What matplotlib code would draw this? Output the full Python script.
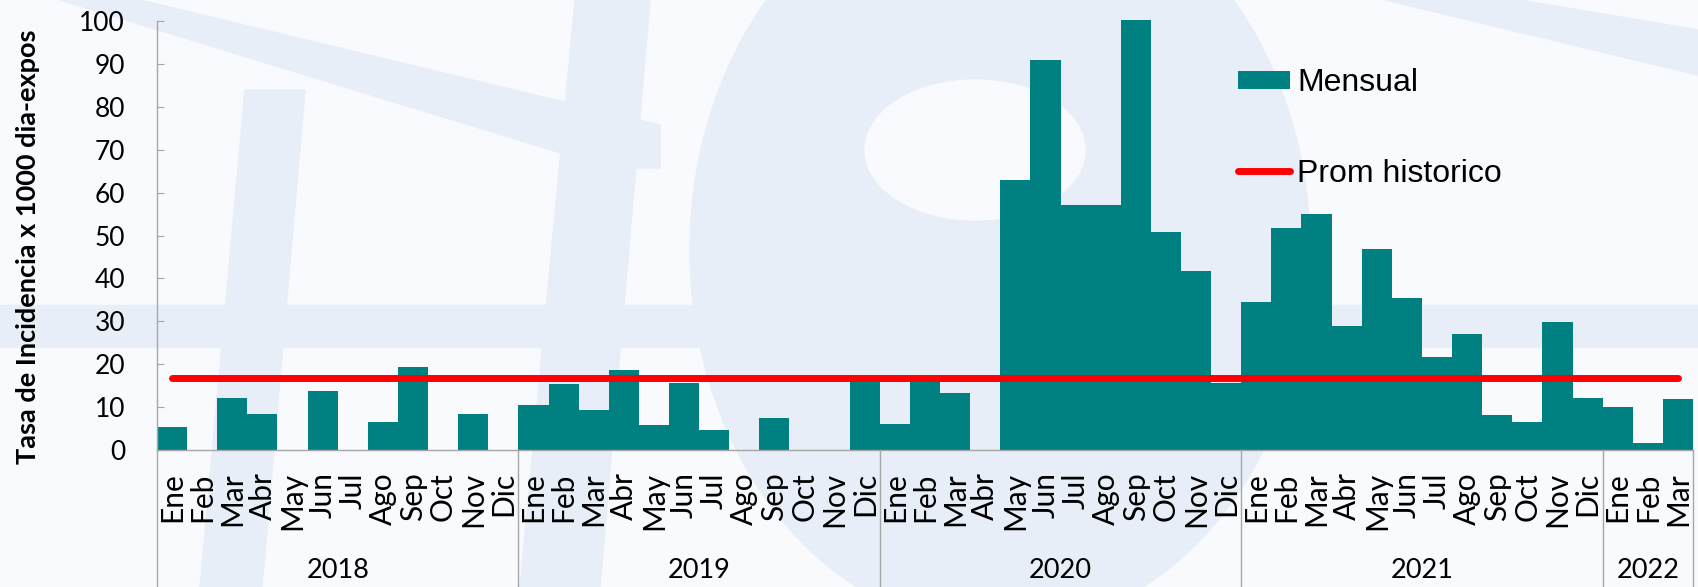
import numpy as np
import matplotlib.pyplot as plt
from matplotlib.patches import Polygon, Ellipse, Rectangle

# datos
meses = ["Ene", "Feb", "Mar", "Abr", "May", "Jun", "Jul", "Ago", "Sep", "Oct", "Nov", "Dic"]
anios = ["2018", "2019", "2020", "2021", "2022"]
meses_por_anio = [12, 12, 12, 12, 3]
tasa = [5.4, 0, 12.1, 8.3, 0, 13.7, 0, 6.5, 19.4, 0, 8.5, 0,
        10.5, 15.3, 9.4, 18.7, 5.8, 15.7, 4.6, 0, 7.4, 0, 0, 16.2,
        6.0, 16.2, 13.3, 0, 62.9, 90.8, 57.1, 57.1, 100.2, 50.7, 41.8, 15.6,
        34.6, 51.8, 54.9, 28.9, 46.8, 35.5, 21.6, 27.0, 8.2, 6.5, 29.9, 12.1,
        10.0, 1.7, 11.9]
prom_historico = 16.7

etiquetas = []
for n in meses_por_anio:
    etiquetas += meses[:n]
x = np.arange(len(tasa))

W, H = 1698, 587
fig = plt.figure(figsize=(W / 100, H / 100), dpi=100)

# marca de agua de fondo (logo tenue)
bg = fig.add_axes([0, 0, 1, 1], zorder=0)
bg.set_xlim(0, W)
bg.set_ylim(H, 0)
bg.axis("off")
fondo = "#f8fafd"
marca = "#e8eef7"
bg.add_patch(Rectangle((0, 0), W, H, color=fondo))
bg.add_patch(Ellipse((1000, 250), 620, 760, color=marca))
bg.add_patch(Ellipse((975, 150), 220, 140, color=fondo))
bg.add_patch(Rectangle((0, 305), W, 42, color=marca))
bg.add_patch(Polygon([(245, 90), (305, 90), (262, 587), (200, 587)], color=marca))
bg.add_patch(Polygon([(60, 0), (140, 0), (660, 125), (660, 168), (610, 168)], color=marca))
bg.add_patch(Polygon([(575, 0), (650, 0), (600, 587), (520, 587)], color=marca))
bg.add_patch(Polygon([(1385, 0), (1520, 0), (1698, 30), (1698, 75)], color=marca))

ax = fig.add_axes([157 / W, (H - 450) / H, (1693 - 157) / W, (450 - 21) / H], zorder=1)
ax.patch.set_alpha(0)

barras = ax.bar(x, tasa, width=1.0, color="#008080", linewidth=0, clip_on=False,
                label="Mensual", zorder=2)
linea, = ax.plot(x, [prom_historico] * len(x), color="#ff0000", lw=5,
                 solid_capstyle="round", label="Prom historico", zorder=3)

ax.set_xlim(-0.5, len(tasa) - 0.5)
ax.set_ylim(0, 100)
ax.set_yticks(range(0, 101, 10))

gris = "#a6a6a6"
for s in ["top", "right"]:
    ax.spines[s].set_visible(False)
for s in ["left", "bottom"]:
    ax.spines[s].set_color(gris)
    ax.spines[s].set_linewidth(1)

ax.tick_params(axis="y", direction="in", length=5, color=gris, pad=23,
               labelsize=19, labelfontfamily="Lato")
ax.set_xticks(x)
ax.set_xticklabels(etiquetas, rotation=90, ha="center", va="top",
                   fontsize=21.5, family="Lato")
ax.tick_params(axis="x", length=0, pad=16)

# separadores y etiquetas de año
trans = ax.get_xaxis_transform()
fondo_y = -(H - 450) / (450 - 21)
inicio = -0.5
ax.plot([inicio, inicio], [0, fondo_y], transform=trans, color=gris, lw=1, clip_on=False)
for anio, n in zip(anios, meses_por_anio):
    fin = inicio + n
    ax.plot([fin, fin], [0, fondo_y], transform=trans, color=gris, lw=1, clip_on=False)
    ax.text((inicio + fin) / 2, -(571 - 450) / (450 - 21), anio, transform=trans,
            ha="center", va="center", fontsize=19.5, family="Lato")
    inicio = fin

fig.text(28 / W, 1 - 247 / H, "Tasa de Incidencia x 1000 dia-expos", rotation=90,
         ha="center", va="center", fontsize=19.5, fontweight="bold", family="Lato")

leg = ax.legend(handles=[barras, linea], loc="upper left",
                bbox_to_anchor=(1238 / W, 1 - 68 / H), bbox_transform=fig.transFigure,
                frameon=False, borderpad=0, borderaxespad=0, handlelength=1.63,
                handleheight=0.5, handletextpad=0.22, labelspacing=1.9,
                prop={"family": "Liberation Sans", "size": 23})

fig.savefig("out.png", dpi=100)
